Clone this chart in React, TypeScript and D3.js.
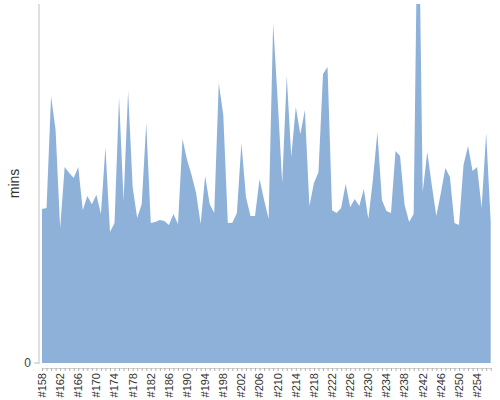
import React from "react";
import * as d3 from "d3";

const firstBuild = 158;
const mins: number[] = [
  51.5, 51.8, 89.2, 77.9, 45.1, 65.5, 63.5, 61.8, 65.5, 51.1,
  55.8, 53.1, 56.2, 49.8, 72.2, 43.8, 46.8, 88.9, 54.2, 90.9,
  58.8, 48.5, 53.1, 80.2, 46.8, 47.1, 47.8, 47.5, 46.1, 49.8,
  46.5, 74.9, 67.9, 62.8, 56.8, 46.5, 62.5, 53.1, 50.1, 93.6,
  82.9, 46.8, 46.9, 50.1, 73.5, 55.5, 49.1, 49.1, 61.5, 54.5,
  48.1, 113.6, 87.9, 60.2, 95.9, 68.9, 85.6, 76.5, 84.6, 52.5,
  60.2, 63.8, 96.6, 98.9, 51.1, 50.1, 51.8, 59.8, 52.1, 54.8,
  52.5, 58.2, 48.1, 61.2, 77.2, 54.5, 50.8, 50.1, 70.9, 69.2,
  52.8, 47.1, 49.8, 170, 57.2, 70.5, 59.5, 49.1, 56.8, 65.2,
  62.2, 46.8, 46.1, 66.2, 72.5, 64.2, 65.5, 51.8, 76.9, 47.1,
];
const builds: string[] = mins.map((_, i) => `#${firstBuild + i}`);
const labelEvery = 4;
const yDomain: [number, number] = [0, 120];
const yTicks: number[] = [0];
const yTitle = "mins";

export default function App() {
  const width = 500;
  const height = 400;
  const plotLeft = 42;
  const plotRight = 490.7;
  const plotTop = 4;
  const plotBottom = 363;

  const x = d3
    .scalePoint<string>()
    .domain(builds)
    .range([plotLeft, plotRight]);
  const y = d3.scaleLinear().domain(yDomain).range([plotBottom, plotTop]);

  const area = d3
    .area<number>()
    .x((_, i) => x(builds[i]) as number)
    .y0(y(0))
    .y1((d) => y(d));

  const font = "'Liberation Sans', Arial, sans-serif";

  return (
    <svg
      width={width}
      height={height}
      style={{ position: "absolute", left: 0, top: 0 }}
    >
      <defs>
        <clipPath id="plotClip">
          <rect x={plotLeft} y={plotTop} width={plotRight - plotLeft + 1} height={plotBottom - plotTop} />
        </clipPath>
      </defs>
      <path d={area(mins) || ""} fill="#8eb1da" clipPath="url(#plotClip)" />

      {/* y axis */}
      <line x1={39} x2={39} y1={plotTop} y2={plotBottom + 1} stroke="#c0c0c0" strokeWidth={1} />
      {yTicks.map((t) => (
        <g key={t}>
          <line x1={34} x2={39} y1={y(t)} y2={y(t)} stroke="#c0c0c0" />
          <text
            x={31}
            y={y(t)}
            dy="0.35em"
            textAnchor="end"
            fontFamily={font}
            fontSize={12}
            fill="#444"
          >
            {t}
          </text>
        </g>
      ))}
      <text
        transform={`translate(14, ${(plotTop + plotBottom) / 2}) rotate(-90)`}
        textAnchor="middle"
        dy="0.35em"
        fontFamily={font}
        fontSize={14}
        fill="#333"
      >
        {yTitle}
      </text>

      {/* x axis */}
      <line x1={plotLeft} x2={plotRight + 1} y1={368.5} y2={368.5} stroke="#d0d0d0" />
      {builds.map((b) => (
        <line
          key={b}
          x1={(x(b) as number) + 0.5}
          x2={(x(b) as number) + 0.5}
          y1={368}
          y2={371}
          stroke="#b0b0b0"
        />
      ))}
      {builds
        .filter((_, i) => i % labelEvery === 0)
        .map((b) => (
          <text
            key={b}
            transform={`translate(${x(b)}, 373) rotate(-90)`}
            textAnchor="end"
            dy="0.35em"
            fontFamily={font}
            fontSize={11}
            fill="#333"
          >
            {b}
          </text>
        ))}
    </svg>
  );
}
